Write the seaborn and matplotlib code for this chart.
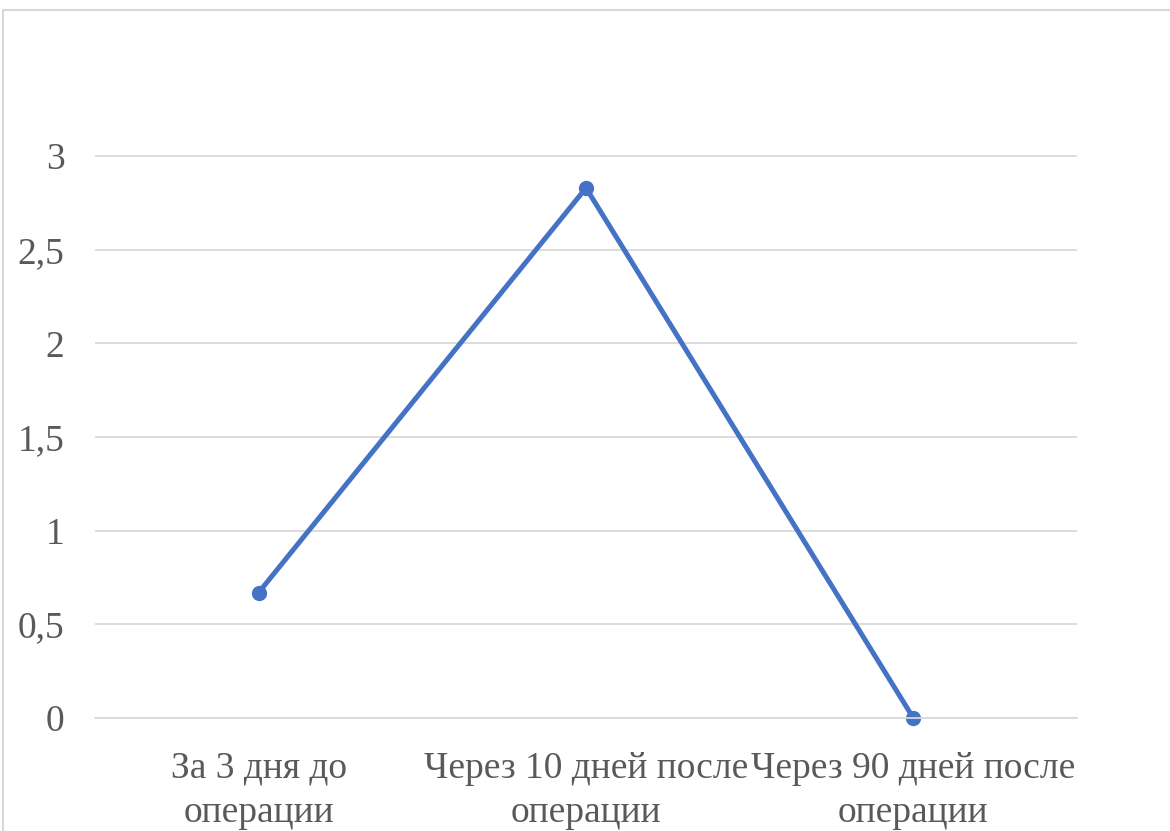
import pandas as pd
import seaborn as sns
import matplotlib.pyplot as plt
from matplotlib.patches import Rectangle

categories = ["За 3 дня до\nоперации", "Через 10 дней после\nоперации", "Через 90 дней после\nоперации"]
values = [0.67, 2.83, 0.0]
y_ticks = [0, 0.5, 1, 1.5, 2, 2.5, 3]
y_tick_labels = ["0", "0,5", "1", "1,5", "2", "2,5", "3"]

df = pd.DataFrame({"period": categories, "value": values})

sns.set_style("white")
plt.rcParams["font.family"] = ["Liberation Serif", "DejaVu Serif"]

fig = plt.figure(figsize=(11.7, 8.31), dpi=100)
# рамка вокруг области диаграммы
fig.patches.append(Rectangle((3 / 1170, -0.01), 1.0, 1 - 10 / 831 + 0.01, transform=fig.transFigure,
                             fill=False, edgecolor="#d9d9d9", linewidth=1.5))

ax = fig.add_axes([95 / 1170, 1 - 718 / 831, 982 / 1170, (718 - 40) / 831])
sns.lineplot(data=df, x="period", y="value", ax=ax, color="#4472C4", linewidth=3.6,
             marker="o", markersize=11, markeredgewidth=0, sort=False, clip_on=False)

ax.set_xlim(-0.5, 2.5)
ax.set_ylim(0, 3.62)
ax.set_yticks(y_ticks)
ax.set_yticklabels(y_tick_labels)
ax.yaxis.grid(True, color="#d9d9d9", linewidth=1.3)
ax.set_axisbelow(True)
for s in ["top", "right", "left"]:
    ax.spines[s].set_visible(False)
ax.spines["bottom"].set_color("#d9d9d9")
ax.spines["bottom"].set_linewidth(1.3)
ax.tick_params(axis="both", length=0, labelsize=27, labelcolor="#595959")
ax.tick_params(axis="y", pad=22)
ax.tick_params(axis="x", pad=24)
for lbl in ax.get_xticklabels():
    lbl.set_linespacing(1.35)
ax.set_xlabel("")
ax.set_ylabel("")

fig.savefig("out.png", dpi=100)
